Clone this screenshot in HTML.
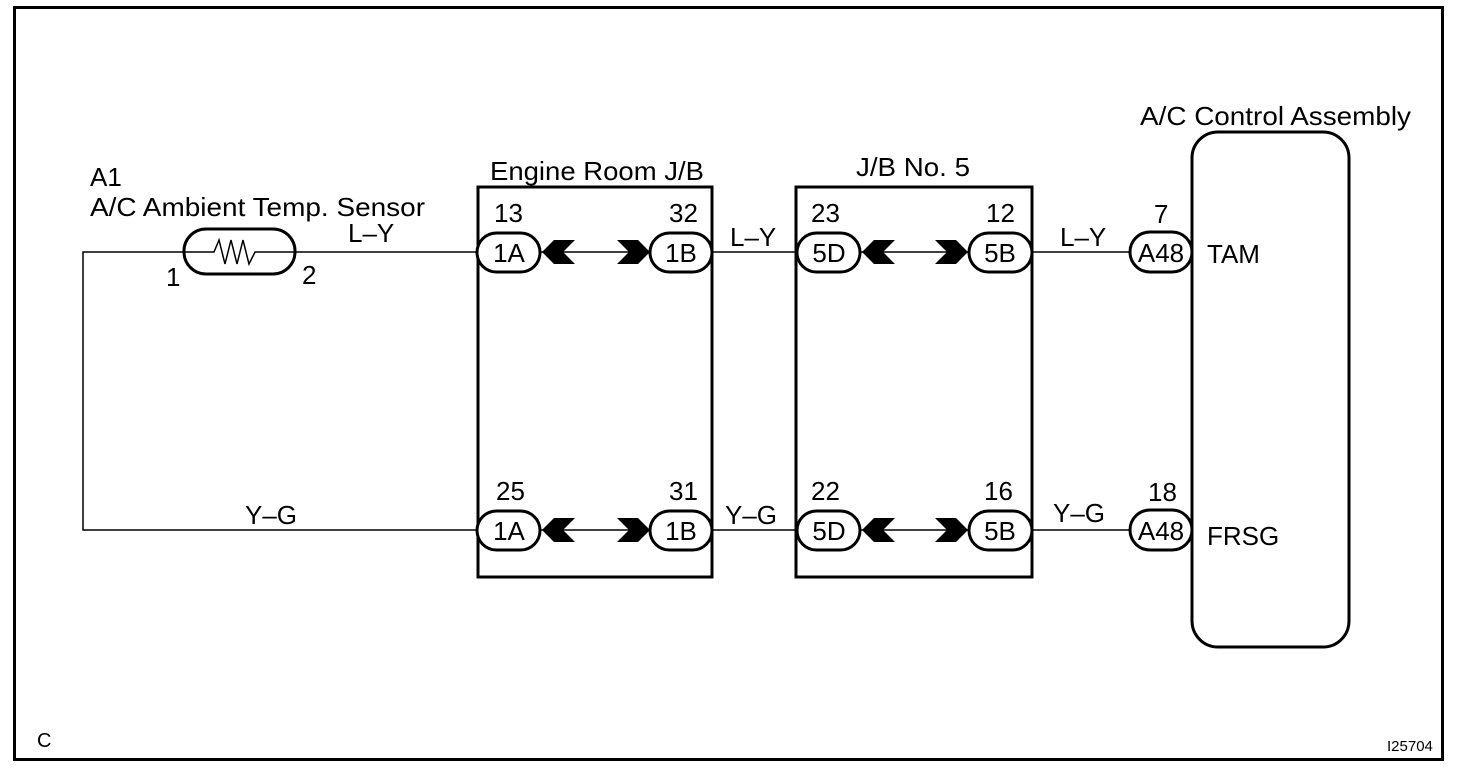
<!DOCTYPE html>
<html><head><meta charset="utf-8"><style>
html,body{margin:0;padding:0;background:#fff}
svg{display:block}
text{font-family:"Liberation Sans",Arial,sans-serif;font-size:26px;fill:#000}
.c{text-anchor:middle}
</style></head><body>
<svg width="1472" height="776" viewBox="0 0 1472 776" xmlns="http://www.w3.org/2000/svg">
<rect x="14.5" y="7.5" width="1428" height="752" fill="none" stroke="#000" stroke-width="3"/>
<g stroke="#000" stroke-width="1.5" fill="none">
<polyline points="478,530 83,530 83,252 185,252"/>
<line x1="295" y1="252" x2="478" y2="252"/>
<line x1="540" y1="252" x2="650" y2="252"/>
<line x1="540" y1="530" x2="650" y2="530"/>
<line x1="712" y1="252" x2="797" y2="252"/>
<line x1="712" y1="530" x2="797" y2="530"/>
<line x1="860" y1="252" x2="970" y2="252"/>
<line x1="860" y1="530" x2="970" y2="530"/>
<line x1="1032" y1="252" x2="1130" y2="252"/>
<line x1="1032" y1="530" x2="1130" y2="530"/>
</g>
<rect x="184" y="229" width="111" height="45" rx="22" fill="#fff" stroke="#000" stroke-width="3"/>
<polyline points="185,252 214,252 219,240 225,264 231,240 237,264 243,240 249,264 255,252 295,252" fill="none" stroke="#000" stroke-width="1.5"/>
<rect x="478" y="187" width="234" height="390" fill="none" stroke="#000" stroke-width="3"/>
<rect x="796" y="187" width="236" height="390" fill="none" stroke="#000" stroke-width="3"/>
<rect x="1192" y="132" width="157" height="515" rx="26" fill="#fff" stroke="#000" stroke-width="3"/>
<g fill="#fff" stroke="#000" stroke-width="3">
<rect x="477" y="233" width="63" height="39" rx="19.5"/>
<rect x="650" y="233" width="62" height="39" rx="19.5"/>
<rect x="477" y="511" width="63" height="39" rx="19.5"/>
<rect x="650" y="511" width="62" height="39" rx="19.5"/>
<rect x="797" y="233" width="63" height="39" rx="19.5"/>
<rect x="969" y="233" width="63" height="39" rx="19.5"/>
<rect x="797" y="511" width="63" height="39" rx="19.5"/>
<rect x="969" y="511" width="63" height="39" rx="19.5"/>
<rect x="1130" y="232" width="62" height="40" rx="20"/>
<rect x="1130" y="510" width="62" height="40" rx="20"/>
</g>
<g fill="#000">
<polygon points="542,252 554,240 575,240 563,252 575,264 554,264"/>
<polygon points="650,252 638,240 617,240 629,252 617,264 638,264"/>
<polygon points="542,530 554,518 575,518 563,530 575,542 554,542"/>
<polygon points="650,530 638,518 617,518 629,530 617,542 638,542"/>
<polygon points="862,252 874,240 895,240 883,252 895,264 874,264"/>
<polygon points="968,252 956,240 935,240 947,252 935,264 956,264"/>
<polygon points="862,530 874,518 895,518 883,530 895,542 874,542"/>
<polygon points="968,530 956,518 935,518 947,530 935,542 956,542"/>
</g>
<text x="90" y="186">A1</text>
<text x="90" y="216" textLength="335" lengthAdjust="spacingAndGlyphs">A/C Ambient Temp. Sensor</text>
<text x="166" y="286">1</text>
<text x="302" y="284">2</text>
<text x="348" y="242">L–Y</text>
<text x="245" y="524">Y–G</text>
<text x="490" y="180" textLength="214" lengthAdjust="spacingAndGlyphs">Engine Room J/B</text>
<text x="856" y="176" textLength="114" lengthAdjust="spacingAndGlyphs">J/B No. 5</text>
<text x="1140" y="125" textLength="271" lengthAdjust="spacingAndGlyphs">A/C Control Assembly</text>
<text x="494" y="222">13</text>
<text x="669" y="222">32</text>
<text x="496" y="500">25</text>
<text x="669" y="500">31</text>
<text x="811" y="222">23</text>
<text x="986" y="222">12</text>
<text x="811" y="500">22</text>
<text x="984" y="500">16</text>
<text x="1154" y="223">7</text>
<text x="1148" y="501">18</text>
<text class="c" x="509" y="262">1A</text>
<text class="c" x="681" y="262">1B</text>
<text class="c" x="509" y="540">1A</text>
<text class="c" x="681" y="540">1B</text>
<text class="c" x="829" y="262">5D</text>
<text class="c" x="1000" y="262">5B</text>
<text class="c" x="829" y="540">5D</text>
<text class="c" x="1000" y="540">5B</text>
<text class="c" x="1161" y="262">A48</text>
<text class="c" x="1161" y="540">A48</text>
<text x="730" y="246">L–Y</text>
<text x="725" y="524">Y–G</text>
<text x="1060" y="246">L–Y</text>
<text x="1053" y="522">Y–G</text>
<text x="1207" y="263">TAM</text>
<text x="1207" y="545">FRSG</text>
<text x="37" y="747" style="font-size:20px">C</text>
<text x="1387" y="751" style="font-size:15px">I25704</text>
</svg>
</body></html>
